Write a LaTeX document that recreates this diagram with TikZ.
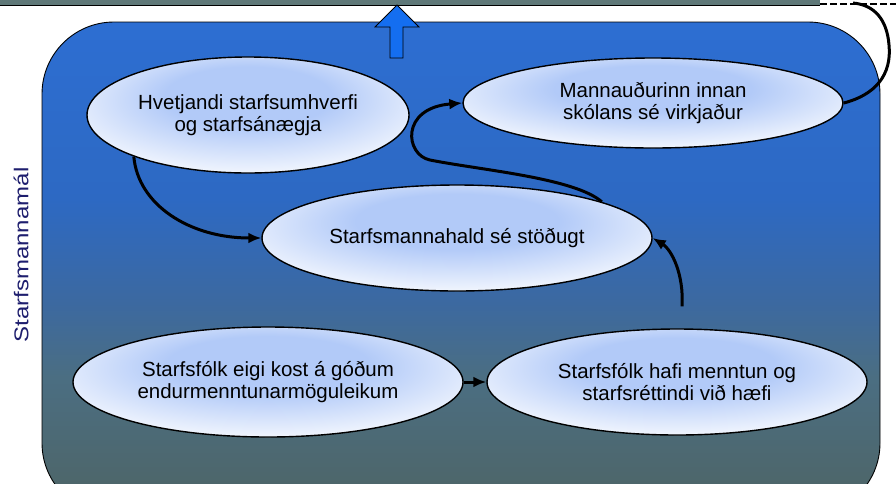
\documentclass[tikz,border=0pt]{standalone}
\usepackage{fontspec}
\setmainfont{Liberation Sans}
\usepackage{graphicx}
\usetikzlibrary{shapes.geometric,arrows.meta}

\definecolor{panelA}{RGB}{45,110,210}
\definecolor{panelB}{RGB}{45,105,195}
\definecolor{panelE}{RGB}{60,105,160}
\definecolor{panelD}{RGB}{75,110,130}
\definecolor{panelC}{RGB}{78,100,100}
\definecolor{bubbleBlue}{RGB}{178,202,248}
\definecolor{stripgray}{RGB}{95,120,120}
\definecolor{uparrow}{RGB}{20,110,240}
\definecolor{labelnavy}{RGB}{30,30,110}

% panel background: blue at the top fading to grey-teal
\pgfdeclareverticalshading{panelshade}{100bp}{%
  color(0bp)=(panelC); color(25bp)=(panelC); color(39bp)=(panelD);
  color(46.5bp)=(panelE); color(57bp)=(panelB); color(75bp)=(panelA);
  color(100bp)=(panelA)}
% bubble fill: pale blue core, white rim
\pgfdeclareradialshading{bubbleshade}{\pgfpoint{0bp}{10bp}}{%
  color(0bp)=(bubbleBlue); color(13bp)=(bubbleBlue);
  color(34bp)=(white); color(60bp)=(white)}

\tikzset{
  bubble/.style={ellipse, draw=black, line width=1.4pt, shade, shading=bubbleshade,
    inner sep=0pt, align=center, font=\fontsize{20.5}{22}\selectfont},
  conn/.style={line width=3pt, -{Latex[length=13pt,width=11pt]}},
  plainconn/.style={line width=3pt},
}

\begin{document}
\begin{tikzpicture}[x=1pt,y=-1pt]
\useasboundingbox (0,0) rectangle (896,483);
\clip (0,0) rectangle (896,483);
\fill[white] (0,0) rectangle (896,483);

% top strip and its dashed continuation
\fill[stripgray] (0,0) rectangle (820,5);
\draw[line width=1.2pt] (0,5.5) -- (820,5.5);
\draw[line width=1.2pt, dash pattern=on 7pt off 3pt] (820,4) -- (896,4);

% rounded panel
\shade[shading=panelshade, draw=black, line width=0.9pt, rounded corners=72pt]
  (42,515) -- (42,22) -- (880,22) -- (880,515) -- cycle;

% upward block arrow
\filldraw[fill=uparrow, draw=black, line width=0.8pt]
  (397,5) -- (419,27) -- (403,27) -- (403,58) -- (390,58) -- (390,27) -- (375,27) -- cycle;

% side label
\node[rotate=90, text=labelnavy, font=\fontsize{20}{22}\selectfont] (side) at (21,255)
  {\scalebox{1.2}[1]{Starfsmannamál}};

% bubbles
\node[bubble, minimum width=322pt, minimum height=116pt] (e1) at (248,115)
  {Hvetjandi starfsumhverfi\\og starfsánægja};
\node[bubble, minimum width=380pt, minimum height=90pt] (e2) at (653,103)
  {Mannauðurinn innan\\skólans sé virkjaður};
\node[bubble, minimum width=390pt, minimum height=106pt] (e3) at (457,238)
  {Starfsmannahald sé stöðugt};
\node[bubble, minimum width=390pt, minimum height=110pt] (e4) at (268,382)
  {Starfsfólk eigi kost á góðum\\endurmenntunarmöguleikum};
\node[bubble, minimum width=380pt, minimum height=106pt] (e5) at (677,382)
  {Starfsfólk hafi menntun og\\starfsréttindi við hæfi};

% connectors
\draw[conn] (e1.200) .. controls (138,205) and (190,238) .. (e3.west);
\draw[conn] (e3.14) .. controls (575,178) and (480,170) .. (430,160)
  .. controls (405,155) and (400,108) .. (e2.west);
\draw[conn] ([xshift=5pt,yshift=22pt]e5.north) .. controls (684,275) and (672,250) .. (e3.east);
\draw[conn] (e4.east) -- (e5.west);
\coordinate (topend) at (853,3);
\draw[plainconn] (e2.east) .. controls (875,95) and (892,75) .. (889,45)
  .. controls (887,20) and (875,5) .. (topend);
\end{tikzpicture}
\end{document}
